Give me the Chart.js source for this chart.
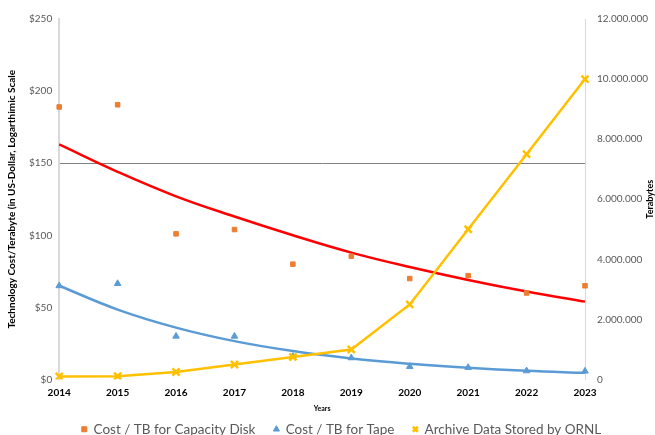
<!DOCTYPE html>
<html>
<head>
<meta charset="utf-8">
<script src="https://cdn.jsdelivr.net/npm/chart.js@4"></script>
<style>
  html, body { margin: 0; padding: 0; background: #fff; }
  #wrap { width: 655px; height: 435px; overflow: hidden; }
</style>
</head>
<body>
<div id="wrap"><canvas id="grafica"></canvas></div>
<script>
// categorias (eje X)
const years = ["2014", "2015", "2016", "2017", "2018", "2019", "2020", "2021", "2022", "2023"];

// costo por TB (USD) - eje izquierdo
const diskCost = [189, 190.5, 101, 104, 80, 85.5, 70, 72, 60, 65];
const tapeCost = [65, 66.5, 30, 30, 16, 15, 9, 8.3, 6, 5.8];

// lineas de tendencia
const diskTrend = [163, 144, 127, 113, 100, 88, 78, 69, 61, 54];
const tapeTrend = [65, 48.5, 36, 26.6, 19.7, 14.6, 10.9, 8.1, 6, 4.6];

// datos archivados (TB) - eje derecho
const archiveTB = [100000, 110000, 250000, 500000, 750000, 1000000, 2500000, 5000000, 7500000, 10000000];

// etiquetas de ejes
const leftTicks = [0, 50, 100, 150, 200, 250];
const rightTicks = [0, 2000000, 4000000, 6000000, 8000000, 10000000, 12000000];

const FONT = "Lato, 'Open Sans', sans-serif";
const GREY = '#595959';
const GAP = '\u2002\u2009'; // espacio extra entre items de la leyenda

function puntos(n) {
  return String(n).replace(/\B(?=(\d{3})+(?!\d))/g, '.');
}

// titulo del eje derecho, girado como el del eje izquierdo
const tituloDerecho = {
  id: 'tituloDerecho',
  afterLayout(chart) {
    // la leyenda del original esta un poco corrida a la derecha
    chart.legend.left += 11;
    chart.legend.right += 11;
  },
  afterDraw(chart) {
    const ctx = chart.ctx;
    const area = chart.chartArea;
    ctx.save();
    ctx.translate(chart.width - 5, (area.top + area.bottom) / 2);
    ctx.rotate(-Math.PI / 2);
    ctx.font = "bold 9px " + FONT;
    ctx.fillStyle = '#000';
    ctx.textAlign = 'center';
    ctx.textBaseline = 'middle';
    ctx.fillText('Terabytes', 0, 0);
    ctx.restore();
  }
};

new Chart(document.getElementById('grafica'), {
  type: 'line',
  data: {
    labels: years,
    datasets: [
      {
        label: 'Archive Data Stored by ORNL',
        data: archiveTB,
        yAxisID: 'yR',
        borderColor: '#FFC000',
        backgroundColor: '#FFC000',
        borderWidth: 2.5,
        pointStyle: 'crossRot',
        pointRadius: 5,
        pointBorderWidth: 2.5,
        tension: 0,
        order: 0
      },
      {
        label: 'Cost / TB for Capacity Disk' + GAP,
        data: diskCost,
        yAxisID: 'yL',
        showLine: false,
        pointStyle: 'rect',
        pointRadius: 3.2,
        borderColor: '#ED7D31',
        backgroundColor: '#ED7D31',
        order: 1
      },
      {
        label: 'Cost / TB for Tape' + GAP,
        data: tapeCost,
        yAxisID: 'yL',
        showLine: false,
        pointStyle: 'triangle',
        pointRadius: 3.8,
        borderColor: '#5B9BD5',
        backgroundColor: '#5B9BD5',
        order: 1
      },
      {
        label: 'trend disk',
        data: diskTrend,
        yAxisID: 'yL',
        borderColor: '#FF0000',
        borderWidth: 2.5,
        pointRadius: 0,
        tension: 0.4,
        order: 2
      },
      {
        label: 'trend tape',
        data: tapeTrend,
        yAxisID: 'yL',
        borderColor: '#5B9BD5',
        borderWidth: 2.5,
        pointRadius: 0,
        tension: 0.4,
        order: 2
      }
    ]
  },
  plugins: [tituloDerecho],
  options: {
    responsive: true,
    maintainAspectRatio: false,
    animation: false,
    layout: { padding: { top: 19, left: 6, right: 0, bottom: -11 } },
    plugins: {
      tooltip: { enabled: false },
      legend: {
        position: 'bottom',
        labels: {
          font: { family: FONT, size: 13.5 },
          color: GREY,
          usePointStyle: true,
          boxWidth: 5,
          boxHeight: 5,
          padding: 10,
          filter: (item) => !item.text.startsWith('trend'),
          sort: (a, b) => {
            const orden = ['Cost / TB for Capacity Disk', 'Cost / TB for Tape', 'Archive Data Stored by ORNL'];
            return orden.indexOf(a.text.trim()) - orden.indexOf(b.text.trim());
          }
        }
      }
    },
    scales: {
      x: {
        offset: false,
        grid: { display: false, drawTicks: false, tickLength: 0 },
        border: { display: false },
        ticks: { font: { family: FONT, size: 10, weight: 'bold', lineHeight: 1 }, color: '#000', padding: 8, maxRotation: 0 },
        title: { display: true, text: 'Years', font: { family: FONT, size: 7, weight: 'bold', lineHeight: 1 }, color: '#000', padding: { top: 0, bottom: 0 } }
      },
      yL: {
        position: 'left',
        min: 0,
        max: 250,
        afterBuildTicks: (axis) => { axis.ticks = leftTicks.map(v => ({ value: v })); },
        grid: {
          color: (ctx) => ctx.tick && ctx.tick.value === 150 ? '#808080' : 'transparent',
          lineWidth: 1,
          drawTicks: false
        },
        border: { display: true, color: '#d9d9d9', width: 2 },
        ticks: {
          font: { family: FONT, size: 10 },
          color: GREY,
          padding: 7,
          callback: (v) => '$' + v
        },
        title: {
          display: true,
          text: 'Technology Cost/Terabyte (in US-Dollar, Logarthimic Scale',
          font: { family: FONT, size: 10, weight: 'bold' },
          color: '#000',
          padding: { top: 0, bottom: 4 }
        }
      },
      yR: {
        position: 'right',
        min: 0,
        max: 12000000,
        afterBuildTicks: (axis) => { axis.ticks = rightTicks.map(v => ({ value: v })); },
        afterFit: (axis) => { axis.width = 70; },
        grid: { display: false, drawTicks: false },
        border: { display: true, color: '#d9d9d9', width: 1 },
        ticks: {
          font: { family: FONT, size: 10 },
          color: GREY,
          padding: 12,
          callback: (v) => puntos(v)
        }
      }
    }
  }
});
</script>
</body>
</html>
